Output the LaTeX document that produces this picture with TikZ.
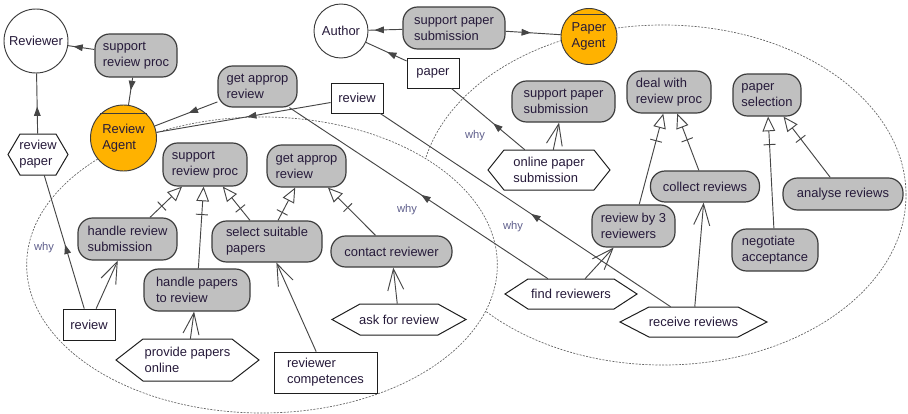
\documentclass[tikz,border=0pt]{standalone}
\usepackage{fontspec}
\setmainfont{Liberation Sans}
\usetikzlibrary{arrows.meta,decorations.markings,calc}

\definecolor{goalfill}{RGB}{192,192,192}
\definecolor{boxline}{RGB}{60,60,60}
\definecolor{resline}{RGB}{30,30,30}
\definecolor{linkcol}{RGB}{70,70,70}
\definecolor{agentfill}{RGB}{255,178,0}
\definecolor{txt}{RGB}{38,26,58}
\definecolor{whycol}{RGB}{95,95,140}
\definecolor{boundcol}{RGB}{100,100,100}

% plan node: hexagon outline with pointed ends, then the named text node
% #1 name, #2 x, #3 y, #4 width, #5 height, #6 point depth, #7 text
\newcommand{\hexnode}[7]{%
  \filldraw[hexline] ({#2-#4/2},#3) -- ({#2-#4/2+#6},{#3-#5/2}) -- ({#2+#4/2-#6},{#3-#5/2})
    -- ({#2+#4/2},#3) -- ({#2+#4/2-#6},{#3+#5/2}) -- ({#2-#4/2+#6},{#3+#5/2}) -- cycle;
  \node[hextext, sz={#4}{#5}] (#1) at (#2,#3) {#7};}

\tikzset{
  every node/.style={font=\fontsize{9.7pt}{12pt}\selectfont, text=txt, inner sep=0pt},
  sz/.style 2 args={minimum width={#1*0.75pt}, minimum height={#2*0.75pt}},
  goal/.style={draw=boxline, fill=goalfill, line width=0.9pt, rounded corners=11pt, align=left},
  res/.style={draw=resline, fill=white, line width=0.6pt, align=left},
  actor/.style={circle, draw=boxline, fill=white, line width=0.7pt, align=left},
  agent/.style={actor, fill=agentfill},
  hexline/.style={draw=resline, fill=white, line width=0.75pt},
  hextext/.style={align=left},
  link/.style={draw=linkcol, line width=0.7pt},
  dep/.style={link, postaction={decorate},
    decoration={markings, mark=at position #1 with {\arrow{Triangle[length=7pt,width=5pt]}}}},
  means/.style={link, -{Straight Barb[length=16pt,width=12pt]}},
  decomp/.style={link, -{Triangle[open,length=11pt,width=9.5pt]}, postaction={decorate},
    decoration={markings, mark=at position -21pt with {\draw[linkcol, line width=0.7pt, arrows=-] (0,-4.5pt) -- (0,4.5pt);}}},
  whylbl/.style={font=\fontsize{8.4pt}{10pt}\selectfont, text=whycol},
  bound/.style={draw=boundcol, dash pattern=on 1.5pt off 1pt, line width=0.5pt, fill=white},
}

\begin{document}
\begin{tikzpicture}[x=0.75pt, y=-0.75pt]
\fill[white] (0,0) rectangle (908,414);
\useasboundingbox (0,0) rectangle (908,414);

% agent boundaries
\draw[bound] (663,195) ellipse [x radius=182.25pt, y radius=127.5pt];
\draw[bound] (262,265) ellipse [x radius=176.5pt, y radius=111pt];

% actors and agents
\node[actor, minimum size={64*0.75pt}] (reviewer) at (36,41) {Reviewer};
\node[actor, minimum size={54*0.75pt}] (author) at (341,31) {Author};
\node[agent, minimum size={66*0.75pt}] (ragent) at (123.5,138) {Review\\Agent};
\node[agent, minimum size={56*0.75pt}] (pagent) at (589,36.5) {Paper\\Agent};
\draw[boxline, line width=0.8pt] (ragent.134) -- (ragent.46);
\draw[boxline, line width=0.8pt] (pagent.130) -- (pagent.50);

% goals
\node[goal, sz={82}{43}] (srptop) at (136,55.5) {support\\review proc};
\node[goal, sz={79}{41}] (gartop) at (257.5,86.5) {get approp\\review};
\node[goal, sz={102}{42}] (spstop) at (454,28) {support paper\\submission};
\node[goal, sz={103}{41}] (spsin) at (563.5,101.5) {support paper\\submission};
\node[goal, sz={84}{42}] (dwrp) at (669,92) {deal with\\review proc};
\node[goal, sz={68}{42}] (psel) at (767,95) {paper\\selection};
\node[goal, sz={109}{31}] (collect) at (705,186.5) {collect reviews};
\node[goal, sz={120}{32}] (analyse) at (843,194) {analyse reviews};
\node[goal, sz={83}{42}] (rb3) at (633.5,226) {review by 3\\reviewers};
\node[goal, sz={86}{42}] (negot) at (775,250) {negotiate\\acceptance};
\node[goal, sz={84}{43}] (srpin) at (205,164.5) {support\\review proc};
\node[goal, sz={79}{42}] (garin) at (306.5,166) {get approp\\review};
\node[goal, sz={99}{42}] (hrs) at (127.5,239) {handle review\\submission};
\node[goal, sz={110}{41}] (ssp) at (267,241.5) {select suitable\\papers};
\node[goal, sz={121}{31}] (contact) at (391.5,251.5) {contact reviewer};
\node[goal, sz={106}{42}] (hpr) at (197,290) {handle papers\\to review};

% resources
\node[res, sz={52}{30}] (reviewtop) at (357,98) {review};
\node[res, sz={52}{30}] (paper) at (433,73) {paper};
\node[res, sz={52}{31}] (reviewbot) at (89,324.5) {review};
\node[res, sz={103}{41}] (rcomp) at (325.5,372.5) {reviewer\\competences};

% plans
\hexnode{revpaper}{38}{154.5}{60}{41}{12}{review\\paper}
\hexnode{online}{549}{170}{122}{40}{16}{online paper\\submission}
\hexnode{find}{571}{294}{132}{30}{23}{find reviewers}
\hexnode{receive}{693.5}{322}{147}{30}{29}{receive reviews}
\hexnode{provide}{187.5}{360}{143}{42}{27}{provide papers\\online}
\hexnode{ask}{399}{319.5}{134}{31}{28}{ask for review}

% dependencies
\draw[dep=0.8] (srptop) -- (reviewer);
\draw[dep=0.46] (srptop) -- (ragent);
\draw[dep=0.46] (gartop) -- (ragent);
\draw[dep=0.48] (reviewtop) -- (ragent);
\draw[dep=0.82] (spstop) -- (author);
\draw[dep=0.46] (spstop) -- (pagent);
\draw[dep=0.48] (paper) -- (author);
\draw[dep=0.45] (revpaper) -- (reviewer);

% why links
\draw[dep=0.48] (reviewbot) -- (revpaper);
\draw[dep=0.43] (online) -- (paper);
\draw[dep=0.49] (find) -- (gartop);
\draw[dep=0.48] (receive) -- (reviewtop);
\node[whylbl] (why1) at (44,248) {why};
\node[whylbl] (why2) at (475,136) {why};
\node[whylbl] (why3) at (407,210) {why};
\node[whylbl] (why4) at (513,227) {why};

% means-end links
\draw[means] (online) -- (spsin);
\draw[means] (reviewbot) -- (hrs);
\draw[means] (provide) -- (hpr);
\draw[means] (rcomp) -- (ssp);
\draw[means] (ask) -- (contact);
\draw[means] (find) -- (rb3);
\draw[means] (receive) -- (collect);

% decompositions
\draw[decomp] (hrs) -- (srpin);
\draw[decomp] (hpr) -- (srpin);
\draw[decomp] (ssp) -- (srpin);
\draw[decomp] (ssp) -- (garin);
\draw[decomp] (contact) -- (garin);
\draw[decomp] (rb3) -- (dwrp);
\draw[decomp] (collect) -- (dwrp);
\draw[decomp] (negot) -- (psel);
\draw[decomp] (analyse) -- (psel);
\end{tikzpicture}
\end{document}
